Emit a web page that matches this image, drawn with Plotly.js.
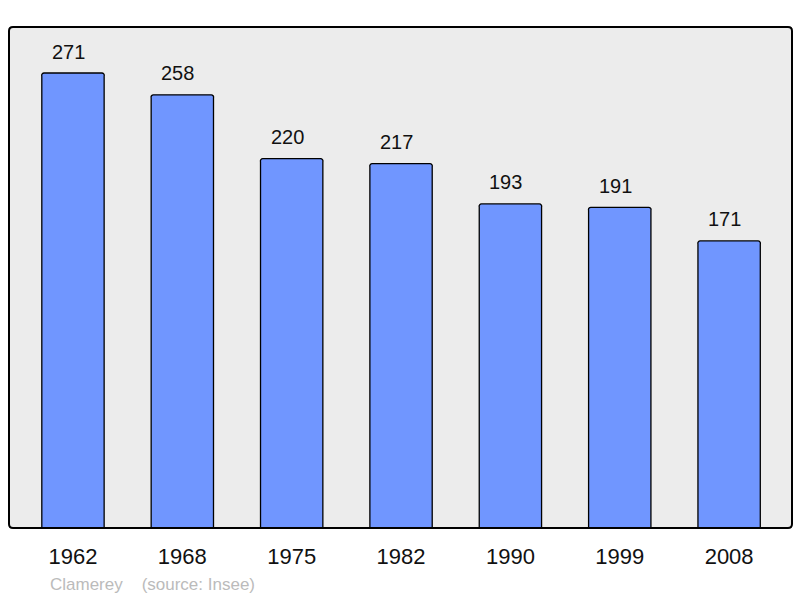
<!DOCTYPE html>
<html>
<head>
<meta charset="utf-8">
<script src="https://cdn.plot.ly/plotly-3.0.1.min.js"></script>
<style>html,body{margin:0;padding:0;background:#fff;}#chart{width:800px;height:598px;}</style>
</head>
<body>
<div id="chart"></div>
<script>
var years = ["1962", "1968", "1975", "1982", "1990", "1999", "2008"];
var population = [271, 258, 220, 217, 193, 191, 171];
var townName = "Clamerey";
var sourceText = "(source: Insee)";

var W = 800, H = 598;
var m = {l: 9, r: 8, t: 27, b: 70};
var pw = W - m.l - m.r, ph = H - m.t - m.b;
var rad = 4;
var rx = rad / pw, ry = rad / ph;
var framePath = "M " + rx + " 0 L " + (1 - rx) + " 0 Q 1 0 1 " + ry +
  " L 1 " + (1 - ry) + " Q 1 1 " + (1 - rx) + " 1 L " + rx + " 1 Q 0 1 0 " + (1 - ry) +
  " L 0 " + ry + " Q 0 0 " + rx + " 0 Z";

var trace = {
  type: "bar",
  x: years,
  y: population,
  width: 0.57,
  marker: {color: "#7096ff", line: {color: "#000", width: 1.3}, cornerradius: 3},
  hoverinfo: "x+y"
};

var annotations = years.map(function (yr, i) {
  return {
    x: i, y: population[i], xref: "x", yref: "y",
    text: String(population[i]), showarrow: false,
    yanchor: "middle", yshift: 21.5, xshift: -4.5,
    font: {family: "Liberation Sans, Arial, sans-serif", size: 20, color: "#111"}
  };
});
annotations.push({
  xref: "paper", yref: "paper", x: (48 - m.l) / pw, y: -(584 - (m.t + ph)) / ph,
  xanchor: "left", yanchor: "middle", showarrow: false,
  text: townName + "\u00a0\u00a0\u00a0\u00a0" + sourceText,
  font: {family: "Liberation Sans, Arial, sans-serif", size: 17, color: "#bbbbbb"}
});

var layout = {
  width: W, height: H,
  margin: m,
  paper_bgcolor: "#ffffff",
  plot_bgcolor: "#ececec",
  showlegend: false,
  bargap: 0,
  xaxis: {
    type: "category", range: [-0.585, 6.575],
    showgrid: false, zeroline: false, showline: false, ticks: "",
    ticklabelstandoff: 13,
    tickfont: {family: "Liberation Sans, Arial, sans-serif", size: 22, color: "#111"},
    fixedrange: true
  },
  yaxis: {
    range: [0, 298.4], showgrid: false, zeroline: false, showline: false,
    showticklabels: false, ticks: "", fixedrange: true
  },
  shapes: [{
    type: "path", xref: "paper", yref: "paper", path: framePath,
    line: {color: "#000", width: 2}, layer: "above"
  }],
  annotations: annotations
};

Plotly.newPlot("chart", [trace], layout, {displayModeBar: false, staticPlot: true});
</script>
</body>
</html>
